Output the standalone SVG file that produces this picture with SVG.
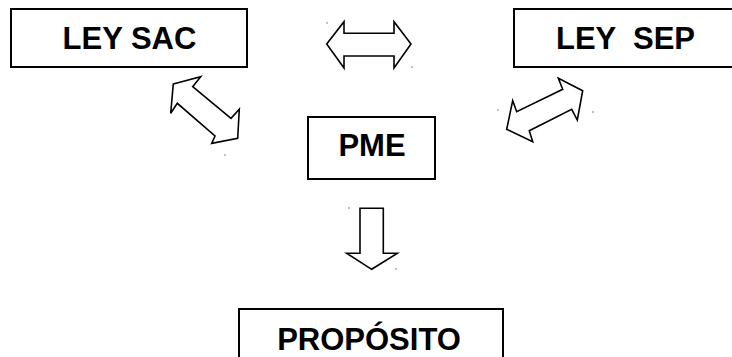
<svg xmlns="http://www.w3.org/2000/svg" width="732" height="357" viewBox="0 0 732 357">
<style>
.box{fill:#fff;stroke:#000;stroke-width:2}
.lbl{font-family:"Liberation Sans",Arial,sans-serif;font-weight:bold;font-size:31px;fill:#000;text-anchor:middle}
.arr{fill:#fff;stroke:#000;stroke-width:1.6;stroke-linejoin:miter}
.dot{fill:#555}
</style>
<rect width="732" height="357" fill="#fff"/>
<g id="ley-sac">
<rect class="box" x="11" y="9" width="236" height="58"/>
<text class="lbl" x="129.5" y="49">LEY SAC</text>
</g>
<g id="ley-sep">
<rect class="box" x="514" y="9" width="230" height="58"/>
<text class="lbl" x="625.5" y="49" xml:space="preserve">LEY  SEP</text>
</g>
<g id="pme">
<rect class="box" x="308" y="117" width="127" height="62"/>
<text class="lbl" x="372" y="156">PME</text>
</g>
<g id="proposito">
<rect class="box" x="239" y="309" width="264" height="60"/>
<text class="lbl" x="369" y="350">PROPÓSITO</text>
</g>
<g id="connectors">
<polygon class="arr" points="326.7,44 344,21.7 344,33.3 394,33.3 394,21.7 411,44 394,68 394,56 344,56 344,68"/>
<polygon class="arr" points="173.3,84 200.7,76.7 192.7,86.7 231,118.3 239.3,109.3 237.7,138.3 211.7,143.3 215,136 177.3,103.3 170.7,113.3"/>
<polygon class="arr" points="582.7,90.7 558.3,78.3 562.7,89.3 516.7,111.7 512.7,100.7 506.7,129.3 532.7,141.7 529.3,130.7 571.7,109.3 577.3,120"/>
<polygon class="arr" points="360,208.3 383.3,208.3 383.3,253.3 397.3,253.3 371.7,269.3 346.7,253.3 360,253.3"/>
</g>
<g id="marks">
<circle class="dot" cx="327" cy="23" r="0.7"/>
<circle class="dot" cx="412" cy="67" r="0.7"/>
<circle class="dot" cx="498" cy="110" r="0.7"/>
<circle class="dot" cx="593" cy="112" r="0.7"/>
<circle class="dot" cx="225" cy="155" r="0.7"/>
<circle class="dot" cx="349" cy="208" r="0.7"/>
<circle class="dot" cx="396" cy="269" r="0.7"/>
</g>
</svg>
